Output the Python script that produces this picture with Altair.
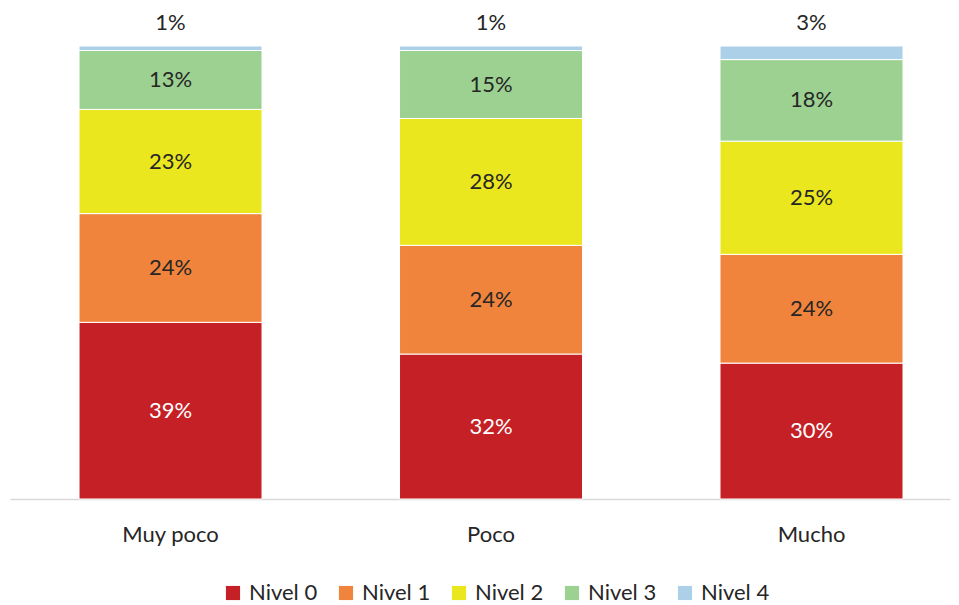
import altair as alt
import pandas as pd

categories = ["Muy poco", "Poco", "Mucho"]
levels = ["Nivel 0", "Nivel 1", "Nivel 2", "Nivel 3", "Nivel 4"]
colors = ["#C42026", "#F0843C", "#EBE71F", "#9DD192", "#ACD0E8"]
nivel0 = [39, 32, 30]
nivel1 = [24, 24, 24]
nivel2 = [23, 28, 25]
nivel3 = [13, 15, 18]
nivel4 = [1, 1, 3]

series = [nivel0, nivel1, nivel2, nivel3, nivel4]
rows = []
for li, (lvl, vals) in enumerate(zip(levels, series)):
    for ci, cat in enumerate(categories):
        rows.append({"cat": cat, "level": lvl, "ord": li, "value": vals[ci],
                     "label": f"{vals[ci]}%"})
df = pd.DataFrame(rows)

FONT = "Lato"
FS = 22

base = alt.Chart(df).transform_stack(
    stack="value", as_=["y0", "y1"], groupby=["cat"], sort=[alt.SortField("ord")]
).transform_calculate(mid="(datum.y0 + datum.y1) / 2")

xenc = alt.X("cat:N", sort=categories, title=None,
             scale=alt.Scale(paddingInner=0.429, paddingOuter=0.181, align=0.595),
             axis=alt.Axis(labelAngle=0, labelFont=FONT, labelFontSize=FS,
                           labelColor="#262626", labelPadding=25, ticks=False,
                           domainColor="#D9D9D9", domainWidth=1.5))
yscale = alt.Scale(domain=[0, 100], nice=False)

bars = base.mark_bar(stroke="white", strokeWidth=1).encode(
    x=xenc,
    y=alt.Y("y0:Q", scale=yscale, axis=None),
    y2="y1:Q",
    color=alt.Color("level:N", scale=alt.Scale(domain=levels, range=colors),
                    legend=alt.Legend(title=None, orient="none", direction="horizontal",
                                      legendX=212, legendY=536, symbolType="square",
                                      symbolSize=200, symbolStrokeWidth=0,
                                      labelFont=FONT, labelFontSize=FS,
                                      labelColor="#262626", columnPadding=17,
                                      symbolOffset=0, labelOffset=5)),
)

inner = base.transform_filter("datum.ord < 4").mark_text(
    font=FONT, fontSize=FS, baseline="middle"
).encode(
    x=alt.X("cat:N", sort=categories),
    y=alt.Y("mid:Q", scale=yscale),
    text="label:N",
    color=alt.condition("datum.ord == 0", alt.value("white"), alt.value("#262626")),
)

top = base.transform_filter("datum.ord == 4").mark_text(
    font=FONT, fontSize=FS, baseline="middle", dy=-23, color="#262626"
).encode(
    x=alt.X("cat:N", sort=categories),
    y=alt.Y("y1:Q", scale=yscale),
    text="label:N",
)

chart = alt.layer(bars, inner, top).properties(
    width=940, height=453,
    autosize=alt.AutoSizeParams(type="none"),
    padding={"left": 2, "top": 38, "right": 1, "bottom": 106},
).configure_view(stroke=None)

chart.save("out.html", embed_options={"renderer": "svg", "actions": False})
